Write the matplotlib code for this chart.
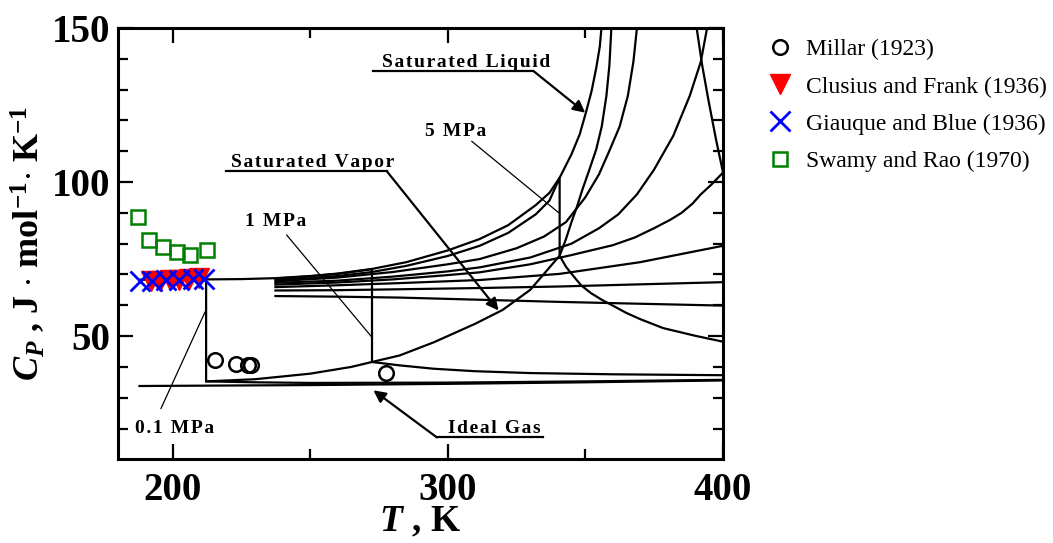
import matplotlib
matplotlib.use("Agg")
import matplotlib.pyplot as plt

plt.rcParams.update({
    "font.family": ["Liberation Serif", "DejaVu Serif"],
    "mathtext.fontset": "custom",
    "mathtext.it": "Liberation Serif:italic:bold",
    "mathtext.rm": "Liberation Serif:bold",
    "mathtext.bf": "Liberation Serif:bold",
})

# ---- data (T in K, Cp in J/mol/K) ----
ideal_T = [188, 250, 300, 350, 400]
ideal_cp = [33.8, 34.1, 34.5, 35.0, 35.6]

# 0.1 MPa isobar: liquid, jump at boiling point, vapour
p01_T = [188, 200, 212.2, 212.2, 230, 250, 300, 350, 400]
p01_cp = [68.3, 68.3, 68.4, 35.3, 35.0, 34.8, 34.9, 35.3, 35.8]

# 1 MPa isobar
p1_T = [237.4, 250, 260, 272.5, 272.5, 282.5, 295, 310, 330, 360, 400]
p1_cp = [68.7, 69.4, 70.2, 71.7, 41.6, 40.5, 39.4, 38.6, 38.0, 37.6, 37.3]

# 5 MPa isobar
p5_T = [237.4, 250, 260, 272.5, 285, 300, 311.6, 322, 332, 337, 340.7,
        340.7, 343, 345.6, 348.5, 352, 356, 360, 365, 370, 378.3, 390, 400]
p5_cp = [68.3, 68.8, 69.5, 70.8, 72.8, 76.0, 79.3, 83.5, 89.5, 94.0, 101.4,
         76.1, 72.5, 69.6, 66.5, 64.0, 61.8, 59.9, 57.5, 55.5, 52.6, 50.1, 48.2]

# supercritical isobars (lowest pressure first)
pa_T = [237.4, 260, 280, 300, 311.6, 325, 335, 343, 350, 355, 359, 362.5,
        365.5, 367.5, 368.8]
pa_cp = [67.8, 69.0, 70.8, 73.3, 75.0, 78.5, 82.3, 87, 95, 102.5, 110.6, 118,
         128, 139, 150]
pa_desc_T = [390.5, 392.5, 394.7, 397.5, 400]
pa_desc_cp = [150, 138, 127, 114, 103.5]

pb_T = [237.4, 260, 280, 300, 311.6, 330, 345, 355, 362, 368.8, 375, 382,
        388, 392, 394.3]
pb_cp = [67.3, 68.0, 69.3, 71.0, 72.3, 75.5, 80, 85, 89.5, 96, 104, 115,
         128, 139, 150]

pc_T = [237.4, 260, 280, 300, 311.6, 330, 345, 360, 368, 375, 381, 385,
        389, 392, 396, 400]
pc_cp = [66.7, 67.4, 68.4, 69.8, 70.7, 73.3, 76.3, 79.5, 82, 85, 87.8, 90,
         93, 96, 99.3, 103]

pd_T = [237.4, 260, 282.5, 311.6, 340.7, 370, 400]
pd_cp = [65.9, 66.5, 67.2, 68.2, 70.2, 74.0, 79.3]

pe_T = [237.4, 260, 282.5, 311.6, 340.7, 370, 400]
pe_cp = [64.8, 64.9, 65.2, 65.6, 66.1, 66.8, 67.5]

pf_T = [237.4, 260, 282.5, 311.6, 340.7, 370, 400]
pf_cp = [63.0, 62.8, 62.5, 61.8, 61.1, 60.5, 59.9]

# saturation curves
satl_T = [212.2, 225, 237.4, 250, 260, 272.5, 285, 300, 311.6, 322, 332,
          337, 340.7, 345, 348, 350.2, 352.3, 354, 355.3, 355.9]
satl_cp = [68.4, 68.5, 68.8, 69.5, 70.3, 71.8, 74.0, 77.8, 81.5, 86, 92.5,
           96.5, 101.4, 109, 115.5, 122.4, 129.5, 137, 144, 150]
satv_T = [212.2, 230, 250, 265, 272.5, 282.5, 295, 310, 320, 330, 340.7,
          343, 345, 347, 349, 351.5, 354, 356, 357.7, 358.8, 359.5]
satv_cp = [35.3, 36.0, 37.8, 40.0, 41.6, 43.7, 48, 54, 58.5, 65, 76.1,
           81.5, 87, 92, 97.6, 104, 110.6, 118, 128, 138, 150]

# experimental data
millar_T = [215.6, 223, 227.3, 228.5, 277.7]
millar_cp = [42.2, 41.0, 40.5, 40.5, 38.0]
clusius_T = [192, 195.5, 199, 202.5, 206, 209.5]
clusius_cp = [68.0, 68.0, 68.1, 68.3, 68.5, 68.7]
giauque_T = [188, 192.5, 197.5, 202.5, 207.5, 211.5]
giauque_cp = [68.0, 68.0, 68.2, 68.3, 68.4, 68.5]
swamy_T = [187.3, 191.5, 196.4, 201.8, 206.4, 212.4]
swamy_cp = [88.8, 81.2, 78.8, 77.2, 76.3, 78.0]


def spaced(s):
    # the original labels are letter-spaced
    return "\u200a".join(s)


fig = plt.figure(figsize=(10.53, 5.43), dpi=100)
ax = fig.add_axes([0.1116, 0.1541, 0.5748, 0.7943])

lw = 1.6
for T, cp in [(ideal_T, ideal_cp), (p01_T, p01_cp), (p1_T, p1_cp), (p5_T, p5_cp),
              (pa_T, pa_cp), (pa_desc_T, pa_desc_cp), (pb_T, pb_cp), (pc_T, pc_cp),
              (pd_T, pd_cp), (pe_T, pe_cp), (pf_T, pf_cp),
              (satl_T, satl_cp), (satv_T, satv_cp)]:
    ax.plot(T, cp, color="k", lw=lw)

h1, = ax.plot(millar_T, millar_cp, "o", mfc="none", mec="k", ms=10.5, mew=1.8,
              label="Millar (1923)")
h4, = ax.plot(swamy_T, swamy_cp, "s", mfc="none", mec="#008000", ms=10, mew=1.8,
              label="Swamy and Rao (1970)")
h2, = ax.plot(clusius_T, clusius_cp, "v", color="red", ms=14,
              label="Clusius and Frank (1936)")
h3, = ax.plot(giauque_T, giauque_cp, "x", color="blue", ms=14, mew=2,
              label="Giauque and Blue (1936)")

# annotations
tkw = dict(fontsize=14, fontweight="bold")
arr = dict(arrowstyle="-|>", color="k", lw=1.6, mutation_scale=18, shrinkA=0, shrinkB=0)

ax.text(276.2, 137.4, spaced("Saturated Liquid"), **tkw)
ax.plot([272.9, 331.1], [136.1, 136.1], color="k", lw=1.6)
ax.annotate("", xy=(350.0, 122.5), xytext=(331.1, 136.1), arrowprops=arr)

ax.text(221.3, 104.8, spaced("Saturated Vapor"), **tkw)
ax.plot([219.5, 277.9], [103.5, 103.5], color="k", lw=1.6)
ax.annotate("", xy=(318.5, 58.3), xytext=(277.9, 103.5), arrowprops=arr)

ax.text(300.0, 18.6, spaced("Ideal Gas"), **tkw)
ax.plot([296.1, 334.6], [17.1, 17.1], color="k", lw=1.6)
ax.annotate("", xy=(273.0, 32.4), xytext=(296.1, 17.1), arrowprops=arr)

ax.text(291.8, 114.8, spaced("5 MPa"), **tkw)
ax.plot([308.8, 340.3], [113.2, 90.1], color="k", lw=0.9)
ax.text(226.4, 85.7, spaced("1 MPa"), **tkw)
ax.plot([241.5, 272.4], [82.8, 49.7], color="k", lw=0.9)
ax.text(186.4, 18.4, spaced("0.1 MPa"), **tkw)
ax.plot([195.8, 211.8], [26.5, 57.8], color="k", lw=0.9)

ax.set_xlim(180, 400)
ax.set_ylim(10, 150)
ax.set_xticks([200, 300, 400])
ax.set_xticks([250, 350], minor=True)
ax.set_yticks([50, 100, 150])
ax.set_yticks([20, 30, 40, 60, 70, 80, 90, 110, 120, 130, 140], minor=True)
ax.tick_params(which="both", direction="in", top=True, right=True, width=1.6)
ax.tick_params(which="major", length=11, labelsize=28)
ax.tick_params(axis="x", which="major", pad=9)
ax.tick_params(axis="y", which="major", pad=5)
ax.tick_params(which="minor", length=7)
for lab in ax.get_xticklabels() + ax.get_yticklabels():
    lab.set_fontweight("bold")
for s in ax.spines.values():
    s.set_linewidth(2.2)

ax.set_xlabel(r"$T$ , K", fontsize=27, fontweight="bold", labelpad=-3)
ax.set_ylabel(r"$C_P$ , J $\cdot$ mol$^{-1}$$\cdot$ K$^{-1}$", fontsize=26,
              fontweight="bold", labelpad=4)

fig.legend(handles=[h1, h2, h3, h4], loc="upper left",
           bbox_to_anchor=(766 / 1053, 1 - 39 / 543), frameon=False,
           fontsize=17, handlelength=1.2, handletextpad=0.5, labelspacing=0.66,
           borderpad=0, borderaxespad=0)

fig.savefig("out.png", dpi=100)
